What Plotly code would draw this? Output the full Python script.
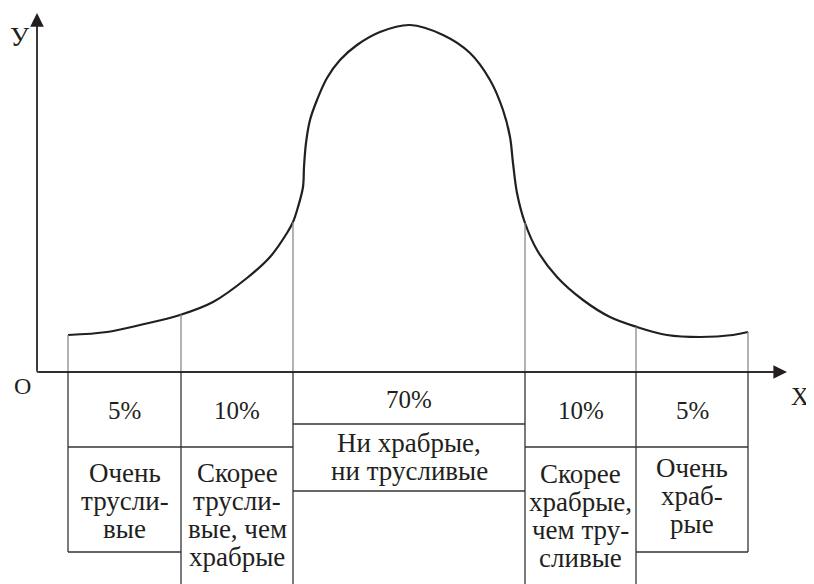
import numpy as np
import plotly.graph_objects as go

# Data: curve (x along the axis, y = height above it)
curve_x = [31, 70, 103, 143, 176, 210, 233, 250, 256, 261, 266, 267, 269, 273, 280,
           290, 303, 320, 343, 373, 406, 433, 453, 466, 473, 476, 480, 488, 500, 520,
           546, 573, 600, 630, 663, 696, 711]
curve_y = [37, 40, 47, 57, 70, 94, 115, 139, 150, 165, 185, 205, 229, 252, 272,
           294, 312, 327, 340, 347, 337, 319, 292, 262, 235, 209, 179, 149, 122, 95,
           72, 55, 45, 37, 35, 37, 40]

# category boundaries on the x axis
bounds = [31, 144, 256, 488, 599, 711]
shares = ["5%", "10%", "70%", "10%", "5%"]
labels = [
    "Очень\nтрусли-\nвые",
    "Скорее\nтрусли-\nвые, чем\nхрабрые",
    "Ни храбрые,\nни трусливые",
    "Скорее\nхрабрые,\nчем тру-\nсливые",
    "Очень\nхраб-\nрые",
]

# layout of the table under the axis
FONT = "Liberation Serif, Times New Roman, serif"
INK = "#231f20"
BOTTOM = -220
head_depth = [-75, -75, -52, -75, -75]        # where the label boxes start
box_bottom = [-180, BOTTOM, -119, BOTTOM, -180]
first_line = [35, 35, 28, 36, 30]             # baseline offset of first label line
LINE_H = 28
X_END, Y_END = 750, 359

fig = go.Figure()

# the curve
fig.add_trace(go.Scatter(
    x=curve_x, y=curve_y, mode="lines",
    line=dict(color=INK, width=2.2, shape="spline", smoothing=1.0),
    hoverinfo="skip"
))

shapes = []
dark = dict(color="#333333", width=1.3)
grey = dict(color="#8a8a8a", width=1.3)

# vertical dividers: grey above the axis, dark below
tops = np.interp(bounds, curve_x, curve_y)
for i, bx in enumerate(bounds):
    left = box_bottom[i - 1] if i > 0 else 0
    right = box_bottom[i] if i < len(box_bottom) else 0
    shapes.append(dict(type="line", x0=bx, x1=bx, y0=0, y1=tops[i], line=grey))
    shapes.append(dict(type="line", x0=bx, x1=bx, y0=0, y1=min(left, right), line=dark))

annotations = []
for i, share in enumerate(shares):
    x0, x1 = bounds[i], bounds[i + 1]
    xc = (x0 + x1) / 2
    top = head_depth[i]
    shapes.append(dict(type="line", x0=x0, x1=x1, y0=top, y1=top, line=dark))
    if box_bottom[i] > BOTTOM:
        shapes.append(dict(type="line", x0=x0, x1=x1, y0=box_bottom[i], y1=box_bottom[i], line=dark))
    annotations.append(dict(
        x=xc, y=top / 2 - 1, text=share, showarrow=False,
        font=dict(family=FONT, size=25, color=INK),
        xanchor="center", yanchor="middle"
    ))
    for j, line in enumerate(labels[i].split("\n")):
        base = top - first_line[i] - j * LINE_H
        annotations.append(dict(
            x=xc, y=base + 9, text=line, showarrow=False,
            font=dict(family=FONT, size=27, color=INK),
            xanchor="center", yanchor="middle"
        ))

# axes with arrow heads
shapes.append(dict(type="line", x0=0, x1=0, y0=0, y1=Y_END - 6, line=dict(color=INK, width=1.3)))
shapes.append(dict(type="line", x0=0, x1=X_END - 6, y0=0, y1=0, line=dict(color=INK, width=1.3)))
annotations.append(dict(x=0, y=Y_END, ax=0, ay=0, axref="x", ayref="y", text="",
                        showarrow=True, arrowhead=2, arrowsize=2.1, arrowwidth=1.3,
                        arrowcolor=INK))
annotations.append(dict(x=X_END, y=0, ax=0, ay=0, axref="x", ayref="y", text="",
                        showarrow=True, arrowhead=2, arrowsize=2.1, arrowwidth=1.3,
                        arrowcolor=INK))

annotations += [
    dict(x=-17, y=335, text="У", showarrow=False, font=dict(family=FONT, size=27, color=INK)),
    dict(x=-15, y=-14, text="O", showarrow=False, font=dict(family=FONT, size=24, color=INK)),
    dict(x=763, y=-24, text="X", showarrow=False, font=dict(family=FONT, size=25, color=INK)),
]

# the page puts the plot 8px in from the top-left corner, so the figure is
# 8px smaller and the ranges are shifted to keep 1 unit = 1 pixel
fig.update_layout(
    width=806, height=576,
    margin=dict(l=0, r=0, t=0, b=0),
    paper_bgcolor="white", plot_bgcolor="white",
    showlegend=False,
    xaxis=dict(range=[-29, 777], visible=False, fixedrange=True),
    yaxis=dict(range=[-212, 364], visible=False, fixedrange=True),
    shapes=shapes,
    annotations=annotations,
)

fig.write_html("out.html")
